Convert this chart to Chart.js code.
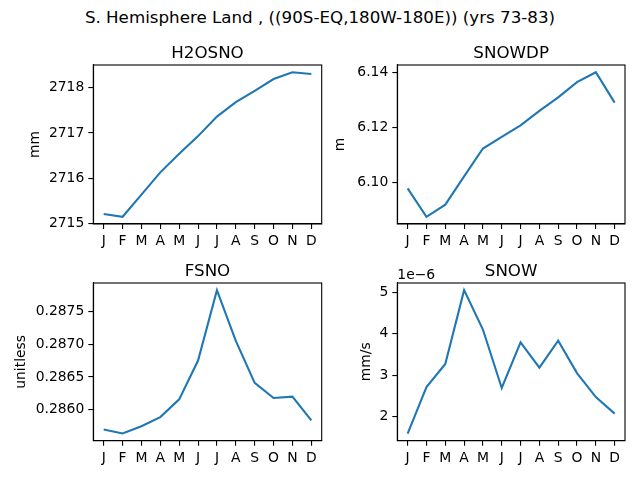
<!DOCTYPE html>
<html>
<head>
<meta charset="utf-8">
<script src="https://cdn.jsdelivr.net/npm/chart.js@4/dist/chart.umd.min.js"></script>
<style>
  html, body { margin: 0; padding: 0; background: #fff; }
  #wrap { position: relative; width: 640px; height: 480px; overflow: hidden; }
  #sup { position: absolute; left: 0; top: 7px; width: 640px; text-align: center;
         font-family: "DejaVu Sans", sans-serif; font-size: 16.7px; line-height: 20px; color: #000; }
  canvas { position: absolute; }
</style>
</head>
<body>
<div id="wrap">
  <div id="sup">S. Hemisphere Land , ((90S-EQ,180W-180E)) (yrs 73-83)</div>
  <canvas id="c1" width="330" height="220" style="left:0px;top:30px;width:330px;height:220px"></canvas>
  <canvas id="c2" width="310" height="220" style="left:330px;top:30px;width:310px;height:220px"></canvas>
  <canvas id="c3" width="330" height="220" style="left:0px;top:248.3px;width:330px;height:220px"></canvas>
  <canvas id="c4" width="310" height="220" style="left:330px;top:248.3px;width:310px;height:220px"></canvas>
</div>
<script>
// ---- data ----
const months = ['J','F','M','A','M','J','J','A','S','O','N','D'];

const h2osno = [2715.21, 2715.15, 2715.64, 2716.13, 2716.54, 2716.93, 2717.36, 2717.68, 2717.93, 2718.19, 2718.34, 2718.30];
const snowdp = [6.0980, 6.0877, 6.0921, 6.1023, 6.1124, 6.1166, 6.1208, 6.1260, 6.1309, 6.1364, 6.1400, 6.1290];
const fsno   = [0.28570, 0.28564, 0.28575, 0.28589, 0.28616, 0.28675, 0.28782, 0.28705, 0.28641, 0.28618, 0.28620, 0.28584];
const snow   = [1.59e-6, 2.71e-6, 3.27e-6, 5.05e-6, 4.10e-6, 2.69e-6, 3.79e-6, 3.18e-6, 3.83e-6, 3.05e-6, 2.47e-6, 2.07e-6];

const h2osnoTicks = [2715, 2716, 2717, 2718];
const snowdpTicks = [6.10, 6.12, 6.14];
const fsnoTicks   = [0.2860, 0.2865, 0.2870, 0.2875];
const snowTicks   = [2e-6, 3e-6, 4e-6, 5e-6];

// ---- drawing ----
const FONT = '"DejaVu Sans", sans-serif';
const BLUE = '#1f77b4';

const framePlugin = {
  id: 'frame',
  afterDraw(chart) {
    const a = chart.chartArea, ctx = chart.ctx;
    const opts = chart.options.plugins.frame || {};
    ctx.save();
    ctx.strokeStyle = '#000';
    ctx.lineWidth = 1.1;
    ctx.strokeRect(a.left, a.top, a.right - a.left, a.bottom - a.top);
    ctx.fillStyle = '#000';
    if (opts.title) {
      ctx.font = '16.7px ' + FONT;
      ctx.textAlign = 'center';
      ctx.textBaseline = 'alphabetic';
      ctx.fillText(opts.title, (a.left + a.right) / 2, a.top - 7.5);
    }
    if (opts.offsetText) {
      ctx.font = '13.9px ' + FONT;
      ctx.textAlign = 'left';
      ctx.textBaseline = 'alphabetic';
      ctx.fillText(opts.offsetText, a.left, a.top - 4.5);
    }
    ctx.restore();
  }
};

function makePanel(id, title, unit, values, ticks, fmt, geom, offsetText) {
  const lo = Math.min(...values), hi = Math.max(...values);
  const m = (hi - lo) * 0.05;
  new Chart(document.getElementById(id), {
    type: 'line',
    data: {
      datasets: [{
        data: values.map((v, i) => ({x: i, y: v})),
        borderColor: BLUE,
        borderWidth: 2.1,
        pointRadius: 0,
        tension: 0,
        fill: false
      }]
    },
    options: {
      responsive: false,
      animation: false,
      devicePixelRatio: 1,
      layout: { padding: { left: 0, right: geom.right, top: 35, bottom: 0 } },
      plugins: {
        legend: { display: false },
        tooltip: { enabled: false },
        title: { display: false },
        frame: { title: title, offsetText: offsetText }
      },
      scales: {
        x: {
          type: 'linear',
          min: -0.55, max: 11.55,
          afterBuildTicks(s) { s.ticks = months.map((_, i) => ({value: i})); },
          afterFit(s) { s.height = geom.xh; },
          ticks: {
            color: '#000', font: { family: FONT, size: 13.9 }, padding: 4,
            maxRotation: 0, autoSkip: false,
            callback: (v) => months[v]
          },
          grid: { drawOnChartArea: false, drawTicks: true, tickLength: 5, color: '#000', lineWidth: 1.1 },
          border: { display: true, color: '#000', width: 1.1 }
        },
        y: {
          type: 'linear',
          min: lo - m, max: hi + m,
          afterBuildTicks(s) { s.ticks = ticks.map(v => ({value: v})); },
          afterFit(s) { s.width = geom.yw; },
          ticks: {
            color: '#000', font: { family: FONT, size: 13.9 }, padding: 4,
            callback: fmt
          },
          grid: { drawOnChartArea: false, drawTicks: true, tickLength: 5, color: '#000', lineWidth: 1.1 },
          border: { display: true, color: '#000', width: 1.1 },
          title: {
            display: true, text: unit, color: '#000',
            font: { family: FONT, size: 13.9, lineHeight: 1.2 },
            padding: { top: geom.tpad, bottom: 0 }
          }
        }
      }
    },
    plugins: [framePlugin]
  });
}

makePanel('c1', 'H2OSNO', 'mm', h2osno, h2osnoTicks, v => v.toFixed(0),
  { right: 8.3, yw: 93.3, xh: 26, tpad: 26.7 });
makePanel('c2', 'SNOWDP', 'm', snowdp, snowdpTicks, v => v.toFixed(2),
  { right: 15, yw: 67.3, xh: 26, tpad: 2.4 });
makePanel('c3', 'FSNO', 'unitless', fsno, fsnoTicks, v => v.toFixed(4),
  { right: 8.3, yw: 93.3, xh: 27.3, tpad: 13.4 });
makePanel('c4', 'SNOW', 'mm/s', snow, snowTicks, v => (v / 1e-6).toFixed(0),
  { right: 15, yw: 67.3, xh: 27.3, tpad: 28.4 }, '1e\u22126');
</script>
</body>
</html>
